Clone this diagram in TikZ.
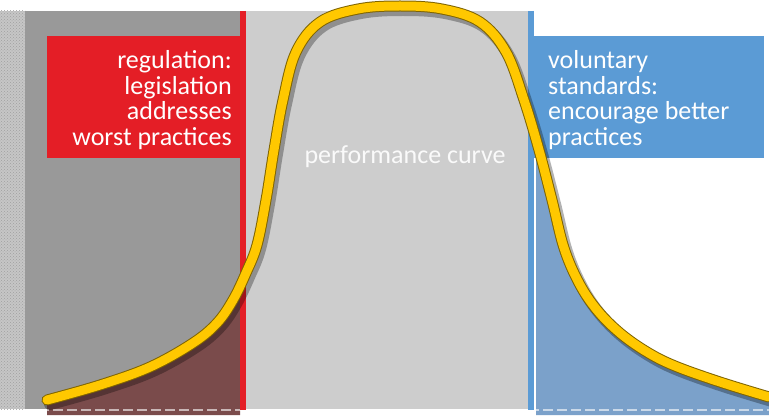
\documentclass[tikz,border=0pt]{standalone}
\usepackage{fontspec}
\setmainfont{Carlito}
\usepackage{xcolor}
\usetikzlibrary{patterns}
\definecolor{regred}{HTML}{E41E26}
\definecolor{volblue}{HTML}{5B9BD5}
\definecolor{darkband}{HTML}{999999}
\definecolor{lightband}{HTML}{CDCDCD}
\definecolor{tailred}{HTML}{7A4B4B}
\definecolor{tailblue}{HTML}{7BA1CA}
\definecolor{curvegold}{HTML}{FFC800}
\definecolor{curveedge}{HTML}{7F6400}
\def\perfcurve{plot[smooth, tension=0.6] coordinates {(47,400) (100,385) (150,367) (193,343) (217,323) (233,300) (246,273) (257,245) (266,200) (274,150) (283,100) (296,52) (320,22) (358,9) (400,6) (442,9) (480,22) (506,52) (524,100) (539,150) (552,200) (564,248) (579,283) (597,310) (620,333) (647,352) (675,366) (720,382) (769,397)}}

\begin{document}
\begin{tikzpicture}[x=1pt, y=-1pt,
    boxtext/.style={text=white, inner sep=0pt, font=\fontsize{26}{25.5}\selectfont},
    divider/.style={line width=5.5pt}]
\useasboundingbox (0,0) rectangle (769,417);

% bands behind the curve
\fill[gray!45] (0,11) rectangle (25,409);
\fill[pattern=crosshatch dots, pattern color=gray!75] (0,11) rectangle (25,409);
\fill[darkband] (25,11) rectangle (240,409);
\fill[lightband] (246,11) rectangle (530,409);

% tails under the curve
\begin{scope}
    \clip (47,0) rectangle (240,415);
    \fill[tailred] \perfcurve -- (769,415) -- (47,415) -- cycle;
\end{scope}
\begin{scope}
    \clip (536,0) rectangle (769,415);
    \fill[tailblue] \perfcurve -- (769,415) -- (47,415) -- cycle;
\end{scope}
\draw[white, opacity=0.6, line width=2pt, dash pattern=on 10pt off 4pt] (25,410) -- (769,410);

% dividers
\draw[regred, divider] (243,11) -- (243,410);
\draw[volblue, divider] (531,11) -- (531,410);
\draw[white, line width=1pt] (535,158) -- (535,410);

% label boxes
\fill[regred] (47,36) rectangle (240,158);
\fill[volblue] (534,36) rectangle (764,158);
\node[boxtext, align=right, anchor=east] (reg) at (232,100) {regulation:\\legislation\\addresses\\worst practices};
\node[boxtext, align=left, anchor=west] (vol) at (548,100) {voluntary\\standards:\\encourage better\\practices};

% the curve
\draw[black, opacity=0.3, line width=12pt, line cap=round, shift={(3,4)}] \perfcurve;
\draw[curveedge, line width=11pt, line cap=round] \perfcurve;
\draw[curvegold, line width=9pt, line cap=round] \perfcurve;

\node[boxtext, text=white!96!gray] (perf) at (405,157) {performance curve};
\end{tikzpicture}
\end{document}
